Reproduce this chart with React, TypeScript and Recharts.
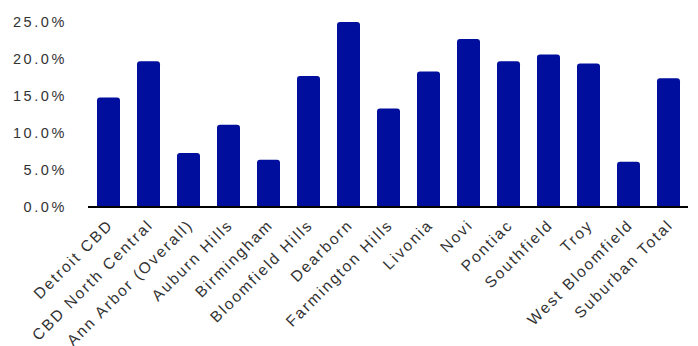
import { BarChart, Bar, XAxis, YAxis } from "recharts";

const markets = [
  "Detroit CBD",
  "CBD North Central",
  "Ann Arbor (Overall)",
  "Auburn Hills",
  "Birmingham",
  "Bloomfield  Hills",
  "Dearborn",
  "Farmington Hills",
  "Livonia",
  "Novi",
  "Pontiac",
  "Southfield",
  "Troy",
  "West Bloomfield",
  "Suburban Total",
];

const vacancy = [14.8, 19.7, 7.3, 11.1, 6.4, 17.7, 25.0, 13.3, 18.3, 22.7, 19.7, 20.6, 19.4, 6.1, 17.4];

const yTicks = [0, 5, 10, 15, 20, 25];

const data = markets.map((name, i) => ({ name, value: vacancy[i] }));

const FONT = "'Liberation Sans', Arial, sans-serif";
const TEXT = "#333";

const YTick = ({ x, y, payload }: any) => (
  <text
    x={x - 13}
    y={y}
    dy={5}
    textAnchor="end"
    fontFamily={FONT}
    fontSize={14.5}
    letterSpacing={2.6}
    fill={TEXT}
  >
    {payload.value.toFixed(1)}%
  </text>
);

const XTick = ({ x, y, payload }: any) => (
  <g transform={`translate(${x + 6},${y + 11})`}>
    <text
      x={0}
      y={0}
      textAnchor="end"
      fontFamily={FONT}
      fontSize={15.5}
      letterSpacing={2}
      fill={TEXT}
      transform="rotate(-45)"
    >
      {payload.value}
    </text>
  </g>
);

export default function App() {
  return (
    <div style={{ position: "absolute", left: 0, top: 0, width: 698, height: 346, background: "#fff" }}>
      <BarChart
        width={698}
        height={346}
        data={data}
        margin={{ top: 22, right: 10, left: 8, bottom: 0 }}
      >
        <XAxis
          dataKey="name"
          interval={0}
          height={139}
          axisLine={{ stroke: "#000", strokeWidth: 2 }}
          tickLine={false}
          tick={<XTick />}
        />
        <YAxis
          width={80}
          domain={[0, 25]}
          ticks={yTicks}
          axisLine={false}
          tickLine={false}
          tick={<YTick />}
        />
        <Bar dataKey="value" fill="#000E9E" barSize={23} radius={[3, 3, 0, 0]} isAnimationActive={false} />
      </BarChart>
    </div>
  );
}
